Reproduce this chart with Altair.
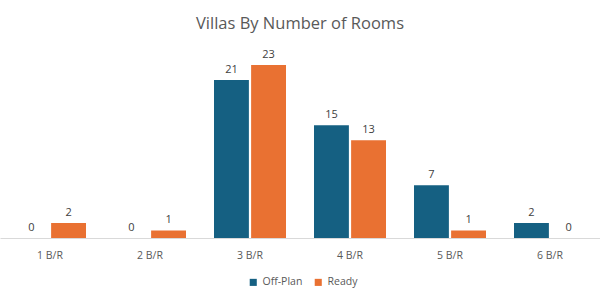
import altair as alt
import pandas as pd

categories = ["1 B/R", "2 B/R", "3 B/R", "4 B/R", "5 B/R", "6 B/R"]
off_plan = [0, 0, 21, 15, 7, 2]
ready = [2, 1, 23, 13, 1, 0]
series = ["Off-Plan", "Ready"]
colors = ["#156082", "#E97132"]

rows = []
for c, a, b in zip(categories, off_plan, ready):
    rows.append({"cat": c, "series": "Off-Plan", "value": a})
    rows.append({"cat": c, "series": "Ready", "value": b})
df = pd.DataFrame(rows)

FONT = "Open Sans"
TXT = "#595959"

base = alt.Chart(df).encode(
    x=alt.X("cat:N", sort=categories, title=None,
            scale=alt.Scale(paddingInner=0.28, paddingOuter=0.14),
            axis=alt.Axis(labelAngle=0, ticks=False, domainColor="#d9d9d9",
                          labelColor=TXT, labelFontSize=10.5, labelFont=FONT,
                          labelPadding=12, grid=False)),
    xOffset=alt.XOffset("series:N", sort=series, scale=alt.Scale(paddingInner=0.06)),
    y=alt.Y("value:Q", scale=alt.Scale(domain=[0, 25]), axis=None),
)

bars = base.mark_bar().encode(
    color=alt.Color("series:N", sort=series,
                    scale=alt.Scale(domain=series, range=colors),
                    legend=alt.Legend(title=None, orient="none", direction="horizontal",
                                      legendX=248, legendY=227, symbolType="square",
                                      symbolSize=50, symbolStrokeWidth=0,
                                      labelFont=FONT, labelFontSize=10.5,
                                      labelColor=TXT, columnPadding=10))
)

labels = base.mark_text(baseline="alphabetic", dy=-7, font=FONT, fontSize=11,
                        color="#404040").encode(text="value:Q")

chart = alt.layer(bars, labels).properties(
    width=600, height=188,
    autosize=alt.AutoSizeParams(type="none"),
    padding={"left": 0, "right": 0, "top": 50, "bottom": 62},
    title=alt.TitleParams("Villas By Number of Rooms", font=FONT, fontSize=16.5,
                          fontWeight="normal", color=TXT, anchor="middle", offset=17),
).configure_view(stroke=None)

chart.save("out.html", embed_options={"renderer": "svg", "actions": False})
